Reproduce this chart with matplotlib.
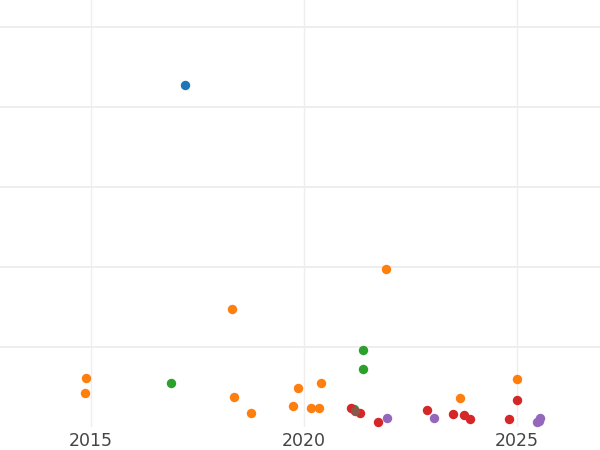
import matplotlib
matplotlib.use("Agg")
import matplotlib.pyplot as plt

# Data (x = year, y = value)
blue_x = [2017.21]
blue_y = [42.75]

orange_x = [2014.88, 2014.87, 2018.31, 2018.36, 2018.75, 2019.85, 2019.75,
            2020.16, 2020.35, 2020.41, 2021.93, 2023.66, 2024.99]
orange_y = [6.16, 4.29, 14.79, 3.75, 1.75, 4.88, 2.67,
            2.38, 2.38, 5.46, 19.8, 3.67, 6.04]

green_x = [2016.87, 2021.38, 2021.38, 2021.18]
green_y = [5.46, 9.67, 7.25, 2.25]

red_x = [2021.10, 2021.32, 2021.74, 2022.895, 2023.51, 2023.76, 2023.90,
         2024.82, 2024.99]
red_y = [2.34, 1.75, 0.67, 2.17, 1.58, 1.46, 0.96, 0.96, 3.38]

brown_x = [2021.205]
brown_y = [2.0]

purple_x = [2021.95, 2023.06, 2025.54, 2025.46, 2025.52]
purple_y = [1.09, 1.09, 1.16, 0.66, 0.71]

x_ticks = [2015, 2020, 2025]
y_grid = [10, 20, 30, 40, 50]

fig = plt.figure(figsize=(6, 4.5), dpi=100)
ax = fig.add_axes([0, 23 / 450, 1, 427 / 450])

s = 46
ax.scatter(blue_x, blue_y, s=s, color="#1f77b4", linewidths=0, zorder=3)
ax.scatter(orange_x, orange_y, s=s, color="#ff7f0e", linewidths=0, zorder=3)
ax.scatter(green_x, green_y, s=s, color="#2ca02c", linewidths=0, zorder=3)
ax.scatter(red_x, red_y, s=s, color="#d62728", linewidths=0, zorder=3)
ax.scatter(brown_x, brown_y, s=s, color="#8c564b", linewidths=0, zorder=4)
ax.scatter(purple_x, purple_y, s=s, color="#9467bd", linewidths=0, zorder=3)

ax.set_xlim(2012.864, 2026.95)
ax.set_ylim(0, 53.375)
ax.set_xticks(x_ticks)
ax.set_xticklabels([str(t) for t in x_ticks])
ax.set_yticks(y_grid)
ax.set_yticklabels([])
ax.tick_params(axis="x", length=0, pad=3.5, labelsize=12.5, labelcolor="#444444")
ax.tick_params(axis="y", length=0)
for sp in ax.spines.values():
    sp.set_visible(False)
ax.grid(axis="y", color="#eeeeee", linewidth=1.4, zorder=0)
ax.grid(axis="x", color="#eeeeee", linewidth=1.0, zorder=0)
ax.set_axisbelow(True)

fig.savefig("out.png", dpi=100)
